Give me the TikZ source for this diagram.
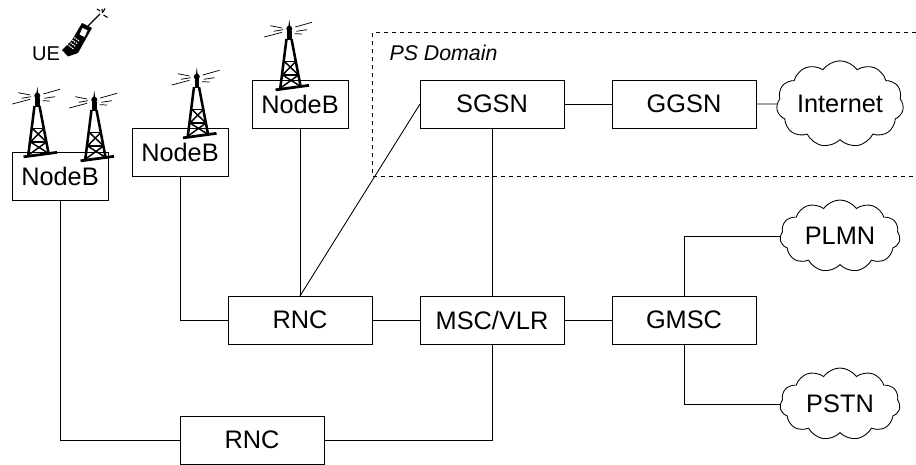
\documentclass[tikz,border=0pt]{standalone}
\usepackage{fontspec}
\setmainfont{Liberation Sans}
\usetikzlibrary{shapes,positioning}

\tikzset{
  tower/.pic={
    % signal lines
    \draw[line width=.55pt] (-21.7,-61.3) -- (-10,-59) (-18.3,-55.7) -- (-9,-57.3) (-27.7,-50) -- (-10,-54.7);
    \draw[line width=.55pt] (3.3,-60) -- (20,-64.7) (4.3,-55.7) -- (15,-57.3) (2.7,-53.3) -- (10,-53);
    % mast and legs
    \fill (-2.7,-67.3) -- (-1.5,-58) -- (-4,-58) -- cycle;
    \fill (-2.7,-58.3) circle (3);
    \fill (-5,-56) rectangle (-.5,-47);
    \draw[line width=1.9pt] (-5.5,-48) -- (-11.7,1) (-.5,-48) -- (8.3,-2);
    % cross braces
    \draw[line width=1.1pt] (-7.8,-25.7) -- (4,-25.7) (-9.5,-12) -- (6.5,-12);
    \draw[line width=1.1pt] (-7.8,-25.7) -- (6.5,-12) (4,-25.7) -- (-9.5,-12);
    \draw[line width=1.1pt] (-9.5,-12) -- (8,-1) (6.5,-12) -- (-11.5,1);
    % base
    \fill (-16.7,1.5) -- (16.7,-3) -- (17.3,-.3) -- (-16.2,4.2) -- cycle;
  },
  handset/.pic={
    \fill (62,50) -- (68,56.5) -- (78,53) -- (92,28) -- (82,23) -- (72,40) -- cycle;
    \draw[line width=.8pt] (88,26) -- (100,14);
    % screen and keys
    \fill[white] (79.5,34.5) -- (82.5,28) -- (87.5,30.5) -- (84.5,37) -- cycle;
    \foreach \i in {0,1,2,3}
      \draw[white, line width=.9pt, dash pattern=on 1pt off .7pt] (67+\i*1.9,44-\i*2.6) ++(-.2,0) -- ++(7,5.2);
    % sparks
    \draw[line width=.8pt] (100,11) -- (97,9) (103,12) -- (105,8.5) (103.5,15) -- (107.5,17.5) (102,9) -- (102.5,13);
  }
}

\begin{document}
\begin{tikzpicture}[x=.75pt, y=-.75pt, node distance=36pt,
    font=\fontsize{19}{22}\selectfont,
    every path/.style={line width=.65pt},
    block/.style={rectangle, draw, fill=white, inner sep=0pt, outer sep=0pt, minimum width=108pt, minimum height=36pt},
    small/.style={block, minimum width=72pt},
    net/.style={cloud, cloud puffs=11, cloud puff arc=110, aspect=1.7, draw, fill=white, inner sep=0pt, outer sep=0pt, minimum width=90pt, minimum height=54pt}]

    \useasboundingbox (0,0) rectangle (916,464);

    % PS domain
    \coordinate (pstop) at (916,32.5);
    \coordinate (psbot) at (916,176.5);
    \draw[dashed] (pstop) -- (372.5,32.5) -- (372.5,176.5) -- (psbot);
    \node[font=\fontsize{16}{18}\selectfont\itshape] (pslabel) at (443.5,53) {PS Domain};

    % Core network
    \node[block] (sgsn) at (492,104) {SGSN};
    \node[block, right=of sgsn] (ggsn) {GGSN};
    \node[net] (internet) at (840,104) {Internet};
    \node[block, below=126pt of sgsn] (msc) {MSC/VLR};
    \node[block, left=of msc] (rnca) {RNC};
    \node[block, right=of msc] (gmsc) {GMSC};
    \node[net] (plmn) at (840,236) {PLMN};
    \node[net] (pstn) at (840,404) {PSTN};

    % Radio access
    \node[small, left=54pt of sgsn] (nodebc) {NodeB};
    \node[small] (nodebb) at (180,152) {NodeB};
    \node[small] (nodeba) at (60,176) {NodeB};
    \node[block] (rncb) at (252,440) {RNC};

    % Lines
    \draw (nodebc) -- (rnca);
    \draw (rnca.north) -- (sgsn.west);
    \draw (nodebb.south) |- (rnca.west);
    \draw (nodeba.south) |- (rncb.west);
    \draw (rncb.east) -| (msc.south);
    \draw (rnca) -- (msc);
    \draw (msc) -- (gmsc);
    \draw (sgsn) -- (msc);
    \draw (sgsn) -- (ggsn);
    \draw (ggsn) -- (internet);
    \draw (gmsc.north) |- (plmn.west);
    \draw (gmsc.south) |- (pstn.west);

    % Towers and handset
    \pic at (40,154) {tower};
    \pic at (97,158) {tower};
    \pic at (199.5,135) {tower};
    \pic at (292,87) {tower};
    \pic at (0,0) {handset};
    \node[font=\fontsize{15}{18}\selectfont] (ue) at (46,54) {UE};

\end{tikzpicture}
\end{document}
